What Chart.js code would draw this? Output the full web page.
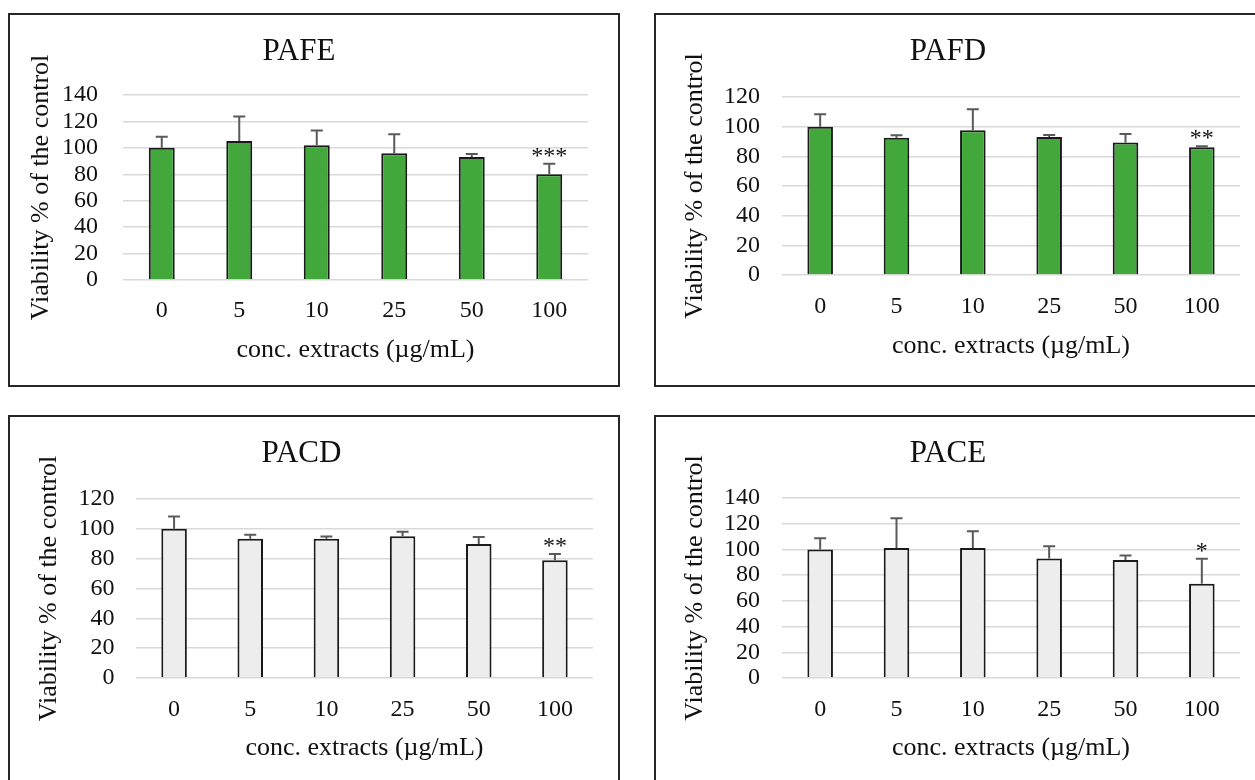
<!DOCTYPE html>
<html>
<head>
<meta charset="utf-8">
<script src="https://cdn.jsdelivr.net/npm/chart.js@4.4.1/dist/chart.umd.min.js"></script>
<style>
  html, body { margin: 0; padding: 0; background: #fff; }
  body { width: 1255px; height: 780px; overflow: hidden; position: relative; }
  .frame { position: absolute; box-sizing: border-box; border: 2px solid #262626; background: #fff; }
  .frame canvas { position: absolute; left: 0; top: 0; }
</style>
</head>
<body>
<div class="frame" style="left:8px;top:13px;width:612px;height:374px"><canvas id="c1" width="608" height="370"></canvas></div>
<div class="frame" style="left:654px;top:13px;width:620px;height:374px"><canvas id="c2" width="608" height="370"></canvas></div>
<div class="frame" style="left:8px;top:415px;width:612px;height:374px"><canvas id="c3" width="608" height="370"></canvas></div>
<div class="frame" style="left:654px;top:415px;width:620px;height:374px"><canvas id="c4" width="608" height="370"></canvas></div>
<script>
const doses = ["0", "5", "10", "25", "50", "100"];

const pafeMean = [100, 105.2, 102, 95.9, 93.1, 80.1];
const pafeSd = [8.4, 18.6, 11.1, 14.4, 2.3, 7.9];
const pafeStars = ["", "", "", "", "", "***"];

const pafdMean = [100, 92.6, 97.6, 93.1, 89.3, 86.1];
const pafdSd = [8.3, 1.6, 14.1, 1.3, 5.8, 0.7];
const pafdStars = ["", "", "", "", "", "**"];

const pacdMean = [100, 93.4, 93.4, 95.1, 89.8, 79];
const pacdSd = [8.3, 2.6, 1.5, 3, 4.7, 4.1];
const pacdStars = ["", "", "", "", "", "**"];

const paceMean = [100, 101.1, 101.1, 93, 91.7, 73.4];
const paceSd = [8.6, 23.2, 13, 9.4, 3.6, 19.3];
const paceStars = ["", "", "", "", "", "*"];

const serif = "'Liberation Serif', 'Times New Roman', serif";

// upper-only error bars plus significance stars
const errorBars = {
    id: "errorBars",
    afterDatasetsDraw(chart, args, opts) {
        const { ctx } = chart;
        const x = chart.scales.x;
        const y = chart.scales.y;
        const vals = chart.data.datasets[0].data;
        ctx.save();
        ctx.strokeStyle = "#5a5a5a";
        ctx.lineWidth = 2;
        ctx.fillStyle = "#111";
        ctx.font = "24px " + serif;
        ctx.textAlign = "center";
        ctx.textBaseline = "alphabetic";
        vals.forEach((v, i) => {
            const px = x.getPixelForValue(i);
            const base = y.getPixelForValue(v);
            const top = y.getPixelForValue(v + opts.sd[i]);
            ctx.beginPath();
            ctx.moveTo(px, base);
            ctx.lineTo(px, top);
            ctx.moveTo(px - 6, top);
            ctx.lineTo(px + 6, top);
            ctx.stroke();
            if (opts.stars[i]) {
                ctx.fillText(opts.stars[i], px, top - 1);
            }
        });
        ctx.restore();
    },
};

function panel(id, title, mean, sd, stars, fill, yMax, g) {
    new Chart(document.getElementById(id), {
        type: "bar",
        data: {
            labels: doses,
            datasets: [
                {
                    data: mean,
                    backgroundColor: fill,
                    borderColor: "#1a1a1a",
                    borderWidth: 2,
                    categoryPercentage: 1,
                    barPercentage: 0.335,
                },
            ],
        },
        options: {
            responsive: false,
            animation: false,
            layout: { padding: { left: 0, top: 0, right: 608 - g.R, bottom: 0 } },
            plugins: {
                legend: { display: false },
                tooltip: { enabled: false },
                title: {
                    display: true,
                    text: title,
                    color: "#111",
                    font: { family: serif, size: 31, weight: "normal", lineHeight: 1.2 },
                    padding: { top: 18, bottom: g.T - 18 - 37.2 },
                },
                errorBars: { sd: sd, stars: stars },
            },
            scales: {
                x: {
                    grid: { display: false, drawTicks: false },
                    border: { display: false },
                    ticks: { color: "#111", padding: g.xTick, font: { family: serif, size: 24 } },
                    title: {
                        display: true,
                        text: "conc. extracts (µg/mL)",
                        color: "#111",
                        font: { family: serif, size: 26 },
                        padding: { top: 0, bottom: g.xTitle },
                    },
                    afterFit: (s) => { s.height = 370 - g.B; },
                },
                y: {
                    min: 0,
                    max: yMax,
                    grid: { color: "#d9d9d9", lineWidth: 1.5, drawTicks: false },
                    border: { display: false },
                    ticks: {
                        stepSize: 20,
                        autoSkip: false,
                        color: "#111",
                        padding: g.yTick,
                        font: { family: serif, size: 24, lineHeight: 1 },
                    },
                    title: {
                        display: true,
                        text: "Viability % of the control",
                        color: "#111",
                        font: { family: serif, size: 26 },
                        padding: { top: g.yTitle, bottom: 0 },
                    },
                    afterFit: (s) => { s.width = g.L; },
                },
            },
        },
        plugins: [errorBars],
    });
}

const green = "#42a83b";
const grey = "#ededed";

panel("c1", "PAFE", pafeMean, pafeSd, pafeStars, green, 140,
    { L: 113, R: 578, T: 80, B: 265, yTick: 25, xTick: 16.6, xTitle: 19.4, yTitle: 16 });
panel("c2", "PAFD", pafdMean, pafdSd, pafdStars, green, 120,
    { L: 126, R: 584, T: 82, B: 260, yTick: 22, xTick: 17.6, xTitle: 23.4, yTitle: 24 });
panel("c3", "PACD", pacdMean, pacdSd, pacdStars, grey, 120,
    { L: 126, R: 583, T: 82, B: 261, yTick: 21.5, xTick: 17.6, xTitle: 23.4, yTitle: 24 });
panel("c4", "PACE", paceMean, paceSd, paceStars, grey, 140,
    { L: 126, R: 584, T: 81, B: 261, yTick: 22, xTick: 17.6, xTitle: 23.4, yTitle: 24 });
</script>
</body>
</html>
